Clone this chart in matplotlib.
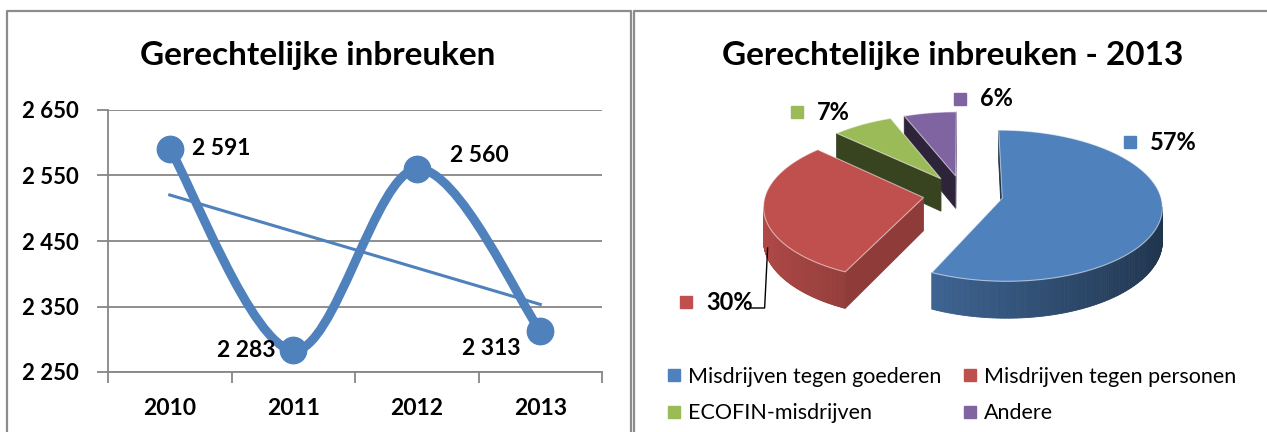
"""Gerechtelijke inbreuken: trend 2010-2013 and 3D pie breakdown for 2013."""

import numpy as np
import matplotlib

matplotlib.use("Agg")
import matplotlib.pyplot as plt
from matplotlib.collections import PolyCollection
from matplotlib.colors import to_rgb
from matplotlib.lines import Line2D
from matplotlib.patches import PathPatch, Polygon
from matplotlib.path import Path

YEARS = ["2010", "2011", "2012", "2013"]
OFFENCES = [2591, 2283, 2560, 2313]

CATEGORIES = [
    "Misdrijven tegen goederen",
    "Misdrijven tegen personen",
    "ECOFIN-misdrijven",
    "Andere",
]
SHARES_2013 = [57, 30, 7, 6]
COLORS = ["#4F81BD", "#C0504D", "#9BBB59", "#8064A2"]

# pixel layout of the figure
W, H = 1267, 432
GRID = "#868686"
FRAME = "#8c8c8c"
# 3D pie: centre, radius, projected depth radius, wall height, explosion, perspective
CX, CY, R, KY, DEPTH, EXPLODE, PERSP = 963, 194, 158, 74, 33, 40, 0.1
# text positions (left edge, centre y) of the pie percentage labels
LABEL_XY = [(1150, 142), (706, 302), (817, 112), (980, 99)]

plt.rcParams["font.family"] = ["Lato", "DejaVu Sans"]


def fmt(v):
    return f"{v:,}".replace(",", " ")


def shade(color, k):
    r, g, b = to_rgb(color)
    return (r * k, g * k, b * k)


def smooth_path(x, y):
    """Catmull-Rom style smoothed line, as Excel draws it."""
    pts = np.column_stack([x, y]).astype(float)
    n = len(pts)
    verts = [pts[0]]
    codes = [Path.MOVETO]
    for i in range(n - 1):
        p0 = pts[max(i - 1, 0)]
        p1, p2 = pts[i], pts[i + 1]
        p3 = pts[min(i + 2, n - 1)]
        verts += [p1 + (p2 - p0) / 6, p2 - (p3 - p1) / 6, p2]
        codes += [Path.CURVE4] * 3
    return Path(verts, codes)


def line_chart(fig):
    ax = fig.add_axes([108 / W, 60 / H, 494 / W, 262 / H])
    x = np.arange(1, len(YEARS) + 1)
    y = np.array(OFFENCES)

    ax.add_patch(PathPatch(smooth_path(x, y), fill=False, ec=COLORS[0],
                           lw=6.5, capstyle="round", zorder=3))
    ax.plot(x, y, "o", ms=19, color=COLORS[0], zorder=4)

    slope, icpt = np.polyfit(x, y, 1)
    ax.plot([x[0], x[-1]], [icpt + slope * x[0], icpt + slope * x[-1]],
            color=COLORS[0], lw=2.2, zorder=2)

    offsets = [(22, 0, "left"), (-18, 0, "right"), (33, 13, "left"), (-20, -18, "right")]
    for xi, yi, (dx, dy, ha) in zip(x, y, offsets):
        ax.annotate(fmt(yi), (xi, yi), xytext=(dx, dy), textcoords="offset pixels",
                    ha=ha, va="center", fontsize=16.5, fontweight="bold", zorder=5)

    ax.set_xlim(0.5, len(YEARS) + 0.5)
    ax.set_ylim(2250, 2650)
    ax.set_yticks(range(2250, 2651, 100))
    ax.set_yticklabels([fmt(v) for v in range(2250, 2651, 100)],
                       fontsize=16, fontweight="bold")
    ax.set_xticks(np.arange(0.5, len(YEARS) + 1), labels=[""] * (len(YEARS) + 1))
    ax.set_xticks(x, labels=YEARS, minor=True, fontsize=16.5, fontweight="bold")
    ax.tick_params(axis="both", which="major", direction="out", length=8,
                   color=GRID, width=1.3)
    ax.tick_params(axis="y", pad=13)
    ax.tick_params(axis="x", which="minor", length=0, pad=19)
    ax.yaxis.grid(True, color=GRID, lw=1.3)
    ax.set_axisbelow(True)
    for side in ("top", "right"):
        ax.spines[side].set_visible(False)
    for side in ("left", "bottom"):
        ax.spines[side].set_color(GRID)
        ax.spines[side].set_linewidth(1.3)


def proj(X, w, z=0.0):
    """Plane point (X right, w back) plus drop z -> figure pixels, with perspective."""
    s = 1.0 / (1.0 + PERSP * np.asarray(w) / R)
    return CX + np.asarray(X) * s, CY - np.asarray(w) * KY / R * s + z * s


def facing(px, pw, nx, nw):
    """True when a vertical face at (px, pw) with normal (nx, nw) faces the eye."""
    return nx * (0 - px) + nw * (-R / PERSP - pw) > 0


def pie_3d(ax):
    total = sum(SHARES_2013)
    start = 90.0
    slices = []
    for share, color in zip(SHARES_2013, COLORS):
        sweep = share / total * 360
        t1, t2 = start, start - sweep
        mid = np.radians((t1 + t2) / 2)
        slices.append(dict(xc=EXPLODE * np.cos(mid), wc=EXPLODE * np.sin(mid),
                           t1=t1, t2=t2, color=color))
        start = t2

    for s in sorted(slices, key=lambda d: -d["wc"]):
        xc, wc, color = s["xc"], s["wc"], s["color"]
        rad = np.radians(np.linspace(s["t1"], s["t2"], 240))
        X = xc + R * np.cos(rad)
        Wp = wc + R * np.sin(rad)
        tx, ty = proj(X, Wp)
        bx, by = proj(X, Wp, DEPTH)
        cx, cy = proj(xc, wc)
        cbx, cby = proj(xc, wc, DEPTH)

        # outer wall where it faces the viewer
        quads, fcs = [], []
        for i in range(len(rad) - 1):
            m = (rad[i] + rad[i + 1]) / 2
            if not facing(xc + R * np.cos(m), wc + R * np.sin(m), np.cos(m), np.sin(m)):
                continue
            quads.append([(tx[i], ty[i]), (tx[i + 1], ty[i + 1]),
                          (bx[i + 1], by[i + 1]), (bx[i], by[i])])
            fcs.append(shade(color, 0.66 - 0.26 * np.cos(m)))
        if quads:
            ax.add_collection(PolyCollection(quads, facecolors=fcs, edgecolors=fcs, lw=0.6))

        # radial cut faces
        for ang, j, sign in ((s["t1"], 0, 1), (s["t2"], -1, -1)):
            a = np.radians(ang)
            nx, nw = -sign * np.sin(a), sign * np.cos(a)
            if not facing(xc, wc, nx, nw):
                continue
            fc = shade(color, 0.74 if nx > 0 else 0.36)
            ax.add_patch(Polygon([(cx, cy), (tx[j], ty[j]), (bx[j], by[j]), (cbx, cby)],
                                 fc=fc, ec=fc, lw=0.6))

        ax.add_patch(Polygon(np.column_stack([np.r_[cx, tx], np.r_[cy, ty]]),
                             fc=color, ec=(1, 1, 1, 0.55), lw=0.8))

    for share, color, (lx, ly) in zip(SHARES_2013, COLORS, LABEL_XY):
        ax.plot(lx - 20, ly, "s", ms=8.5, color=color)
        ax.text(lx, ly, f"{share}%", ha="left", va="center",
                fontsize=17, fontweight="bold")

    # leader line from the 30% label to the red slice wall
    red = slices[1]
    a = np.radians(-160)
    ex, ey = proj(red["xc"] + R * np.cos(a), red["wc"] + R * np.sin(a), 0.7 * DEPTH)
    ly = LABEL_XY[1][1] + 6
    ax.plot([751, ex - 3, ex], [ly, ly, ey], color="black", lw=1)


def main():
    fig = plt.figure(figsize=(W / 100, H / 100), dpi=100)
    over = fig.add_axes([0, 0, 1, 1])
    over.set_xlim(0, W)
    over.set_ylim(H, 0)
    over.axis("off")

    # panel frames
    over.plot([7, 7, 631, 631], [H + 5, 11, 11, H + 5], color=FRAME, lw=1.6)
    over.plot([634, 634, W + 5], [H + 5, 11, 11], color=FRAME, lw=1.6)

    fig.text(318 / W, 1 - 56 / H, "Gerechtelijke inbreuken", ha="center", va="center",
             fontsize=24, fontweight="bold")
    fig.text(953 / W, 1 - 56 / H, "Gerechtelijke inbreuken - 2013", ha="center",
             va="center", fontsize=24, fontweight="bold")

    line_chart(fig)
    pie_3d(over)

    order = [0, 2, 1, 3]
    handles = [Line2D([], [], marker="s", ls="none", ms=8, color=COLORS[i]) for i in order]
    fig.legend(handles, [CATEGORIES[i] for i in order], ncol=2, loc="upper left",
               bbox_to_anchor=(668 / W, 1 - 367 / H), frameon=False, fontsize=15.5,
               handlelength=0.6, handletextpad=0.35, columnspacing=1.0,
               labelspacing=0.76, borderpad=0, borderaxespad=0)

    fig.savefig("out.png", dpi=100)
    plt.close(fig)


if __name__ == "__main__":
    main()
